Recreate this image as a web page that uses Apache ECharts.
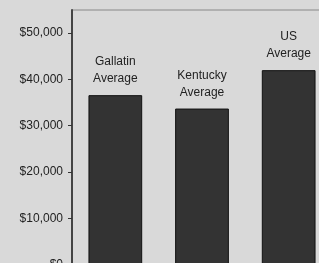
<!DOCTYPE html>
<html>
<head>
<meta charset="utf-8">
<script src="https://cdn.jsdelivr.net/npm/echarts@6/dist/echarts.min.js"></script>
<style>
  html, body { margin: 0; padding: 0; background: #d9d9d9; }
  #main { width: 319px; height: 263px; }
</style>
</head>
<body>
<div id="main"></div>
<script>
var categories = ["Gallatin\nAverage", "Kentucky\nAverage", "US\nAverage"];
var values = [36600, 33700, 42000];
var tickValues = [0, 10000, 20000, 30000, 40000, 50000];

var chartDom = document.getElementById("main");
var myChart = echarts.init(chartDom);
var option;

function money(v) {
  return "$" + v.toLocaleString("en-US");
}

option = {
  backgroundColor: "#d9d9d9",
  animation: false,
  textStyle: { fontFamily: "Liberation Sans, Arial, sans-serif" },
  grid: {
    left: 72,
    top: 10,
    width: 260,
    height: 254.5,
    outerBoundsMode: "none",
    containLabel: false,
    show: true,
    borderColor: "#888",
    borderWidth: 1,
    backgroundColor: "transparent",
  },
  xAxis: {
    type: "category",
    data: categories,
    axisLine: { show: false },
    axisTick: { show: false },
    axisLabel: { show: false },
  },
  yAxis: {
    type: "value",
    min: 0,
    max: 55000,
    splitLine: { show: false },
    axisLine: { show: true, lineStyle: { color: "#444", width: 2 } },
    axisTick: {
      show: true,
      length: 4,
      lineStyle: { color: "#333" },
      customValues: tickValues,
    },
    axisLabel: {
      color: "#222",
      fontSize: 12,
      margin: 9,
      customValues: tickValues,
      formatter: money,
    },
  },
  series: [
    {
      type: "bar",
      data: values,
      barWidth: "62%",
      itemStyle: { color: "#333333", borderColor: "#111", borderWidth: 1 },
      label: {
        show: true,
        position: "top",
        distance: 7.5,
        color: "#222",
        fontSize: 12,
        lineHeight: 17,
        formatter: function (p) {
          return p.name;
        },
      },
    },
  ],
};

option && myChart.setOption(option);
</script>
</body>
</html>
